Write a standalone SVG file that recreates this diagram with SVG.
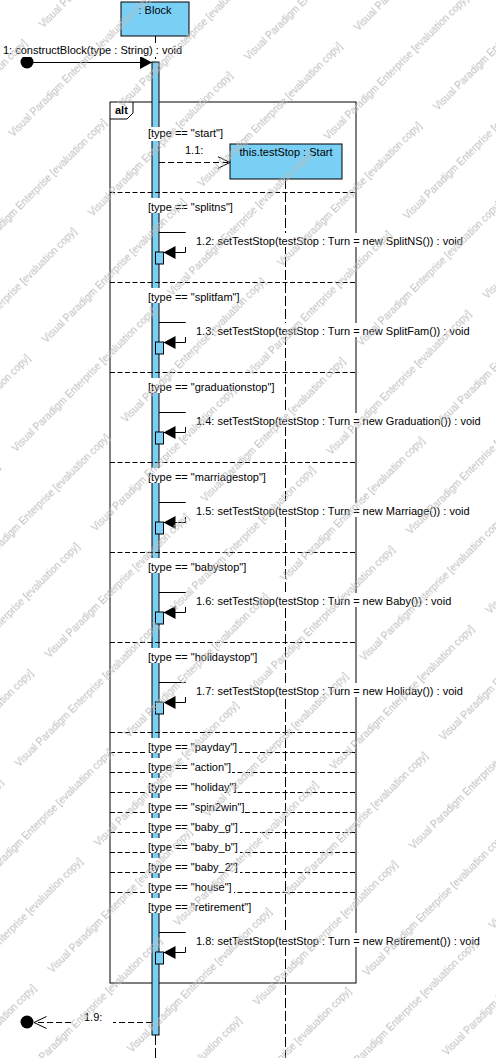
<svg xmlns="http://www.w3.org/2000/svg" width="496" height="1058" viewBox="0 0 496 1058">
<style>
text{font-family:"Liberation Sans",Arial,sans-serif;font-size:11px;fill:#000}
.box{fill:#7acff5;stroke:#000;stroke-width:1}
.ln{stroke:#000;stroke-width:1;fill:none}
.dash{stroke:#000;stroke-width:1;fill:none;stroke-dasharray:6 3}
.sep{stroke:#000;stroke-width:1;fill:none;stroke-dasharray:5 2.5}
.life{stroke:#000;stroke-width:1;fill:none;stroke-dasharray:10 3}
.wm{font-size:10px;fill:#bcbcbc}
.bg{fill:#fff}
</style>
<defs>
<marker id="fill" viewBox="0 0 12 13" refX="12" refY="6.5" markerWidth="12" markerHeight="13" markerUnits="userSpaceOnUse" orient="auto"><path d="M0,0L12,6.5L0,13Z" fill="#000"/></marker>
<marker id="open" viewBox="0 0 13 13" refX="12.5" refY="6.5" markerWidth="13" markerHeight="13" markerUnits="userSpaceOnUse" orient="auto"><path d="M0,0.5L12.5,6.5L0,12.5" fill="none" stroke="#000"/></marker>
<pattern id="wmp" patternUnits="userSpaceOnUse" width="220.62" height="112.43" patternTransform="rotate(-45)">
<text class="wm" x="10.6" y="50.9">Visual Paradigm Enterprise [evaluation copy]</text>
<text class="wm" x="132.9" y="106.8">Visual Paradigm Enterprise [evaluation copy]</text>
<text class="wm" x="-87.7" y="106.8">Visual Paradigm Enterprise [evaluation copy]</text>
</pattern>
</defs>
<rect width="496" height="1058" fill="#fff"/>

<g id="frame-alt">
<rect x="110" y="102" width="246" height="881" class="ln"/>
<path d="M110,119H127L133,113V102" class="ln"/>
<text x="115" y="114" font-weight="bold">alt</text>
</g>

<g id="lifeline-block">
<rect x="121" y="2" width="68" height="34" class="box"/>
<text x="155" y="14" text-anchor="middle">: Block</text>
<path d="M155.5,36V62M155.5,1035V1058" class="life"/>
<rect x="152" y="62" width="7" height="973" class="box"/>
</g>

<g id="lifeline-teststop">
<path d="M285.5,179V1058" class="life"/>
<rect x="230" y="144" width="112" height="35" class="box"/>
<text x="286" y="156" text-anchor="middle">this.testStop : Start</text>
</g>

<g id="operand-separators">
<path class="sep" d="M110,192.5H356M110,282.5H356M110,372.5H356M110,462.5H356M110,552.5H356M110,642.5H356M110,732.5H356M110,752.5H356M110,772.5H356M110,792.5H356M110,812.5H356M110,832.5H356M110,852.5H356M110,872.5H356M110,892.5H356"/>
</g>

<g id="guards">
<rect class="bg" x="146" y="127" width="79" height="14"/>
<rect class="bg" x="146" y="198" width="89" height="15"/>
<rect class="bg" x="146" y="288" width="95" height="15"/>
<rect class="bg" x="146" y="378" width="129" height="15"/>
<rect class="bg" x="146" y="468" width="122" height="15"/>
<rect class="bg" x="146" y="558" width="102" height="15"/>
<rect class="bg" x="146" y="648" width="113" height="15"/>
<rect class="bg" x="146" y="738" width="93" height="15"/>
<rect class="bg" x="146" y="758" width="86" height="15"/>
<rect class="bg" x="146" y="778" width="91" height="15"/>
<rect class="bg" x="146" y="798" width="99" height="15"/>
<rect class="bg" x="146" y="818" width="94" height="15"/>
<rect class="bg" x="146" y="838" width="94" height="15"/>
<rect class="bg" x="146" y="858" width="94" height="15"/>
<rect class="bg" x="146" y="878" width="88" height="15"/>
<rect class="bg" x="146" y="898" width="107" height="15"/>
<text x="148" y="137">[type == "start"]</text>
<text x="148" y="211">[type == "splitns"]</text>
<text x="148" y="301">[type == "splitfam"]</text>
<text x="148" y="391">[type == "graduationstop"]</text>
<text x="148" y="481">[type == "marriagestop"]</text>
<text x="148" y="571">[type == "babystop"]</text>
<text x="148" y="661">[type == "holidaystop"]</text>
<text x="148" y="751">[type == "payday"]</text>
<text x="148" y="771">[type == "action"]</text>
<text x="148" y="791">[type == "holiday"]</text>
<text x="148" y="811">[type == "spin2win"]</text>
<text x="148" y="831">[type == "baby_g"]</text>
<text x="148" y="851">[type == "baby_b"]</text>
<text x="148" y="871">[type == "baby_2"]</text>
<text x="148" y="891">[type == "house"]</text>
<text x="148" y="911">[type == "retirement"]</text>
</g>

<g id="self-activations">
<rect x="155.5" y="252" width="8" height="12" class="box"/>
<rect x="155.5" y="342" width="8" height="12" class="box"/>
<rect x="155.5" y="432" width="8" height="12" class="box"/>
<rect x="155.5" y="522" width="8" height="12" class="box"/>
<rect x="155.5" y="612" width="8" height="12" class="box"/>
<rect x="155.5" y="702" width="8" height="12" class="box"/>
<rect x="155.5" y="952" width="8" height="12" class="box"/>
</g>

<g id="connectors">
<circle cx="27" cy="62" r="6.5" fill="#000"/>
<path d="M27,62.5H152" class="ln" marker-end="url(#fill)"/>
<path d="M159,162.5H230" class="dash" marker-end="url(#open)"/>
<path d="M159,232.5H185.5V252.5H163.5" class="ln" marker-end="url(#fill)"/>
<path d="M159,322.5H185.5V342.5H163.5" class="ln" marker-end="url(#fill)"/>
<path d="M159,412.5H185.5V432.5H163.5" class="ln" marker-end="url(#fill)"/>
<path d="M159,502.5H185.5V522.5H163.5" class="ln" marker-end="url(#fill)"/>
<path d="M159,592.5H185.5V612.5H163.5" class="ln" marker-end="url(#fill)"/>
<path d="M159,682.5H185.5V702.5H163.5" class="ln" marker-end="url(#fill)"/>
<path d="M159,932.5H185.5V952.5H163.5" class="ln" marker-end="url(#fill)"/>
<path d="M152,1022.5H34" class="dash" marker-end="url(#open)"/>
<circle cx="27" cy="1022" r="6.5" fill="#000"/>
</g>

<g id="message-labels">
<rect class="bg" x="1" y="43" width="183" height="14"/>
<text x="3" y="54">1: constructBlock(type : String) : void</text>
<text x="185" y="154">1.1:</text>
<rect class="bg" x="184" y="233" width="300" height="14"/>
<text x="196" y="245">1.2: setTestStop(testStop : Turn = new SplitNS()) : void</text>
<rect class="bg" x="184" y="323" width="300" height="14"/>
<text x="196" y="335">1.3: setTestStop(testStop : Turn = new SplitFam()) : void</text>
<rect class="bg" x="184" y="413" width="300" height="14"/>
<text x="196" y="425">1.4: setTestStop(testStop : Turn = new Graduation()) : void</text>
<rect class="bg" x="184" y="503" width="300" height="14"/>
<text x="196" y="515">1.5: setTestStop(testStop : Turn = new Marriage()) : void</text>
<rect class="bg" x="184" y="593" width="300" height="14"/>
<text x="196" y="605">1.6: setTestStop(testStop : Turn = new Baby()) : void</text>
<rect class="bg" x="184" y="683" width="300" height="14"/>
<text x="196" y="695">1.7: setTestStop(testStop : Turn = new Holiday()) : void</text>
<rect class="bg" x="184" y="933" width="300" height="14"/>
<text x="196" y="945">1.8: setTestStop(testStop : Turn = new Retirement()) : void</text>
<rect class="bg" x="73" y="1015" width="40" height="14"/>
<text x="84" y="1021">1.9:</text>
</g>

<rect id="watermark" width="496" height="1058" fill="url(#wmp)"/>
</svg>
